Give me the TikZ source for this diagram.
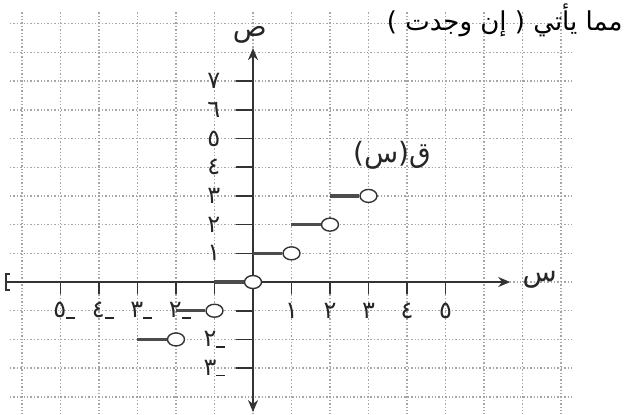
\documentclass[tikz,border=0pt]{standalone}
\usepackage{fontspec}
\newfontfamily\arabicfont[Script=Arabic]{DejaVu Sans}
\newfontfamily\plainfont{DejaVu Sans}
\TeXXeTstate=1
\usetikzlibrary{shapes.geometric, arrows.meta, positioning}

\newcommand{\negnum}[1]{\hbox{#1}\hbox{\rule[-0.6pt]{4.5pt}{0.8pt}}}

\begin{document}
\begin{tikzpicture}[
    x=19.25pt, y=14.35pt,
    gridline/.style={gray!70, densely dotted, line width=0.7pt},
    axis/.style={line width=0.8pt, black!80},
    tick/.style={line width=0.8pt, black!80},
    seg/.style={line width=1.6pt, black!70},
    hole/.style={ellipse, draw=black!80, line width=0.7pt, fill=white, minimum width=8.5pt, minimum height=6.5pt, inner sep=0pt},
    num/.style={font=\arabicfont\fontsize{12}{14}\selectfont, inner sep=0pt, text=black!85},
    axlabel/.style={font=\arabicfont\fontsize{14}{16}\selectfont, inner sep=0pt, text=black!85},
    arrow/.style={-{Stealth[length=6pt, width=5pt]}}
]
\useasboundingbox (-6.571,-4.599) rectangle (9.636,9.826);

\foreach \y in {-4,...,9}
    \draw[gridline] (-6.31,\y) -- (8.31,\y);
\foreach \x in {-6,...,8}
    \draw[gridline] (\x,9.4) -- (\x,-4.6);

\coordinate (xl) at (-6.44,0);
\coordinate (xr) at (6.68,0);
\coordinate (yb) at (0,-4.53);
\coordinate (yt) at (0,8.15);
\draw[axis, {Bracket[width=9pt, length=2pt]}-{Stealth[length=6pt, width=5pt]}] (xl) -- (xr);
\draw[axis, {Stealth[length=6pt, width=5pt]}-{Stealth[length=6pt, width=5pt]}] (yb) -- (yt);

\foreach \x in {-5,-4,-3,-2,-1,1,2,3,4,5}
    \draw[tick] (\x,0) -- (\x,-0.42);
\foreach \y in {-3,-2,-1,1,2,3,4,5,6,7}
    \draw[tick] (-0.45,\y) -- (0,\y);

\foreach \x/\d in {1/١,2/٢,3/٣,4/٤,5/٥}
    \node[num] (xp\x) at (\x,-1) {\d};
\foreach \x/\d in {-2/٢,-3/٣,-4/٤,-5/٥}
    \node[num] (xm\d) at (\x+0.1,-1) {\negnum{\d}};
\foreach \y/\d in {1/١,2/٢,3/٣,4/٤,5/٥,6/٦,7/٧}
    \node[num] (yp\y) at (-1.02,\y) {\d};
\foreach \y/\d in {-2/٢,-3/٣}
    \node[num] (ym\d) at (-1,\y) {\negnum{\d}};

\foreach \n in {-2,...,3} {
    \coordinate (s\n) at (\n-1,\n);
    \node[hole] (h\n) at (\n,\n) {};
    \draw[seg] (s\n) -- (h\n);
}

\node[axlabel] (ylab) at (-0.08,8.6) {ص};
\node[axlabel] (xlab) at (7.45,0.07) {س};
\node[axlabel] (flab) at (3.61,4.42) {\hbox{\plainfont(}\hbox{س}\hbox{\plainfont)}\hbox{ق}};
\node[anchor=east, inner sep=0pt, font=\arabicfont\fontsize{13}{16}\selectfont] (title) at (9.61,9.13) {\beginR مما يأتي ( إن وجدت )\endR};
\end{tikzpicture}
\end{document}
